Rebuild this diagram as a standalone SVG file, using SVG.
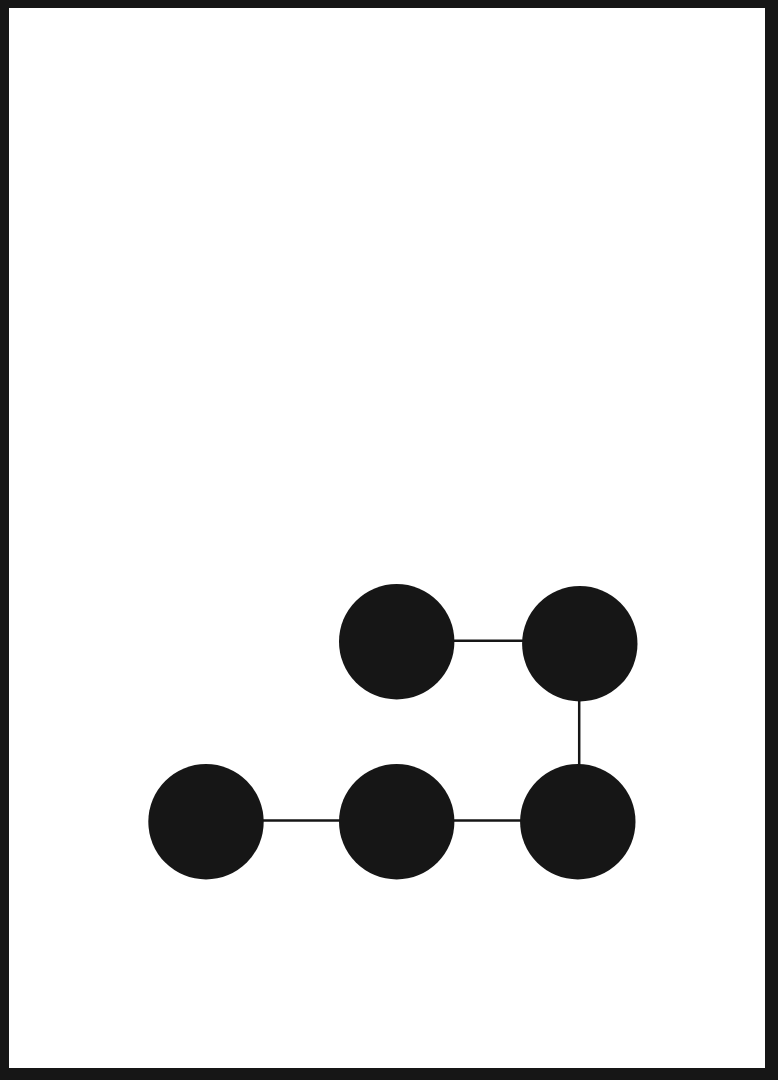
<svg xmlns="http://www.w3.org/2000/svg" width="778" height="1080" viewBox="0 0 778 1080">
<style>
.node{fill:#161616}
.edge{stroke:#161616;stroke-width:2.5;fill:none}
</style>
<rect x="0" y="0" width="778" height="1080" fill="#161616"/>
<rect x="9" y="8" width="756" height="1060" fill="#ffffff"/>
<g id="connectors">
<line class="edge" x1="454" y1="640.8" x2="523" y2="640.8"/>
<line class="edge" x1="579.2" y1="700" x2="579.2" y2="765"/>
<line class="edge" x1="263" y1="820.4" x2="340" y2="820.4"/>
<line class="edge" x1="454" y1="820.4" x2="521" y2="820.4"/>
</g>
<g id="node-a"><circle class="node" cx="396.7" cy="641.7" r="57.7"/></g>
<g id="node-b"><circle class="node" cx="579.8" cy="643.8" r="57.7"/></g>
<g id="node-c"><circle class="node" cx="206" cy="821.8" r="57.7"/></g>
<g id="node-d"><circle class="node" cx="396.7" cy="821.7" r="57.7"/></g>
<g id="node-e"><circle class="node" cx="577.8" cy="821.7" r="57.7"/></g>
</svg>
